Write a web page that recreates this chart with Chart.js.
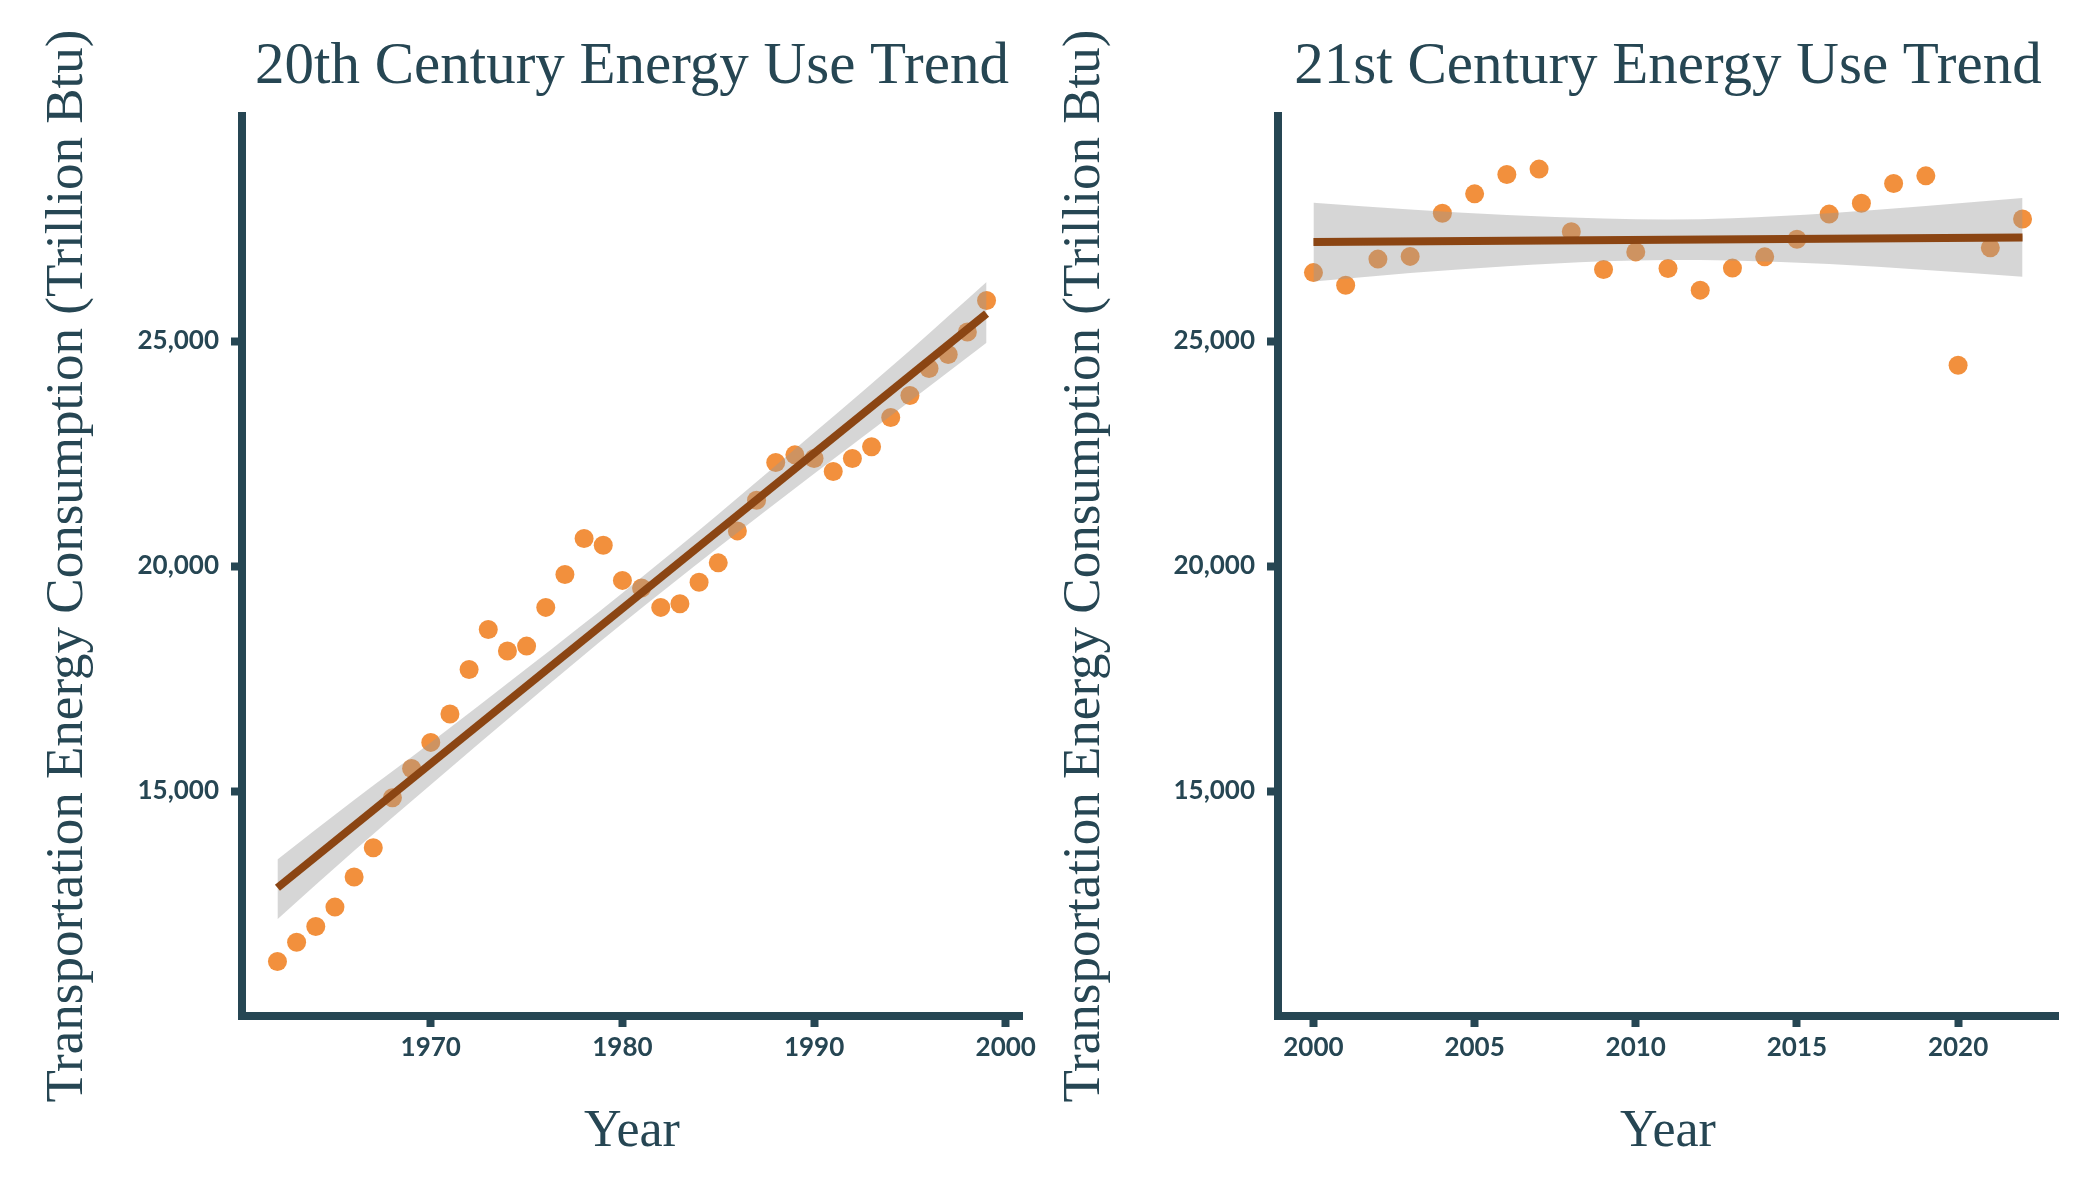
<!DOCTYPE html>
<html>
<head>
<meta charset="utf-8">
<script src="https://cdn.jsdelivr.net/npm/chart.js@4.4.1/dist/chart.umd.min.js"></script>
<style>
  html, body { margin: 0; padding: 0; background: #ffffff; }
  #wrap { position: relative; width: 2100px; height: 1200px; }
  canvas { position: absolute; top: 0; }
  #left { left: 0; width: 1050px; height: 1200px; }
  #right { left: 1036px; width: 1064px; height: 1200px; }
</style>
</head>
<body>
<div id="wrap">
  <canvas id="left" width="1050" height="1200"></canvas>
  <canvas id="right" width="1064" height="1200"></canvas>
</div>
<script>
// 20th century panel
var years20 = [1962, 1963, 1964, 1965, 1966, 1967, 1968, 1969, 1970, 1971,
               1972, 1973, 1974, 1975, 1976, 1977, 1978, 1979, 1980, 1981,
               1982, 1983, 1984, 1985, 1986, 1987, 1988, 1989, 1990, 1991,
               1992, 1993, 1994, 1995, 1996, 1997, 1998, 1999];
var energy20 = [11210, 11640, 11990, 12420, 13090, 13740, 14850, 15500, 16080, 16710,
                17700, 18590, 18110, 18220, 19080, 19810, 20610, 20460, 19680, 19510,
                19080, 19160, 19640, 20070, 20780, 21460, 22300, 22470, 22390, 22100,
                22390, 22650, 23300, 23790, 24390, 24700, 25200, 25900];
var fitYears20 = [1962, 1999];
var fitValues20 = [12850, 25610];
var bandYears20 = [1962, 1966, 1970, 1975, 1980, 1985, 1990, 1995, 1999];
var bandUpper20 = [13480, 14800, 16080, 17720, 19400, 21150, 22960, 24790, 26310];
var bandLower20 = [12150, 13670, 15140, 16950, 18720, 20410, 22050, 23660, 24960];
var xTicks20 = [1970, 1980, 1990, 2000];

// 21st century panel
var years21 = [2000, 2001, 2002, 2003, 2004, 2005, 2006, 2007, 2008, 2009, 2010,
               2011, 2012, 2013, 2014, 2015, 2016, 2017, 2018, 2019, 2020, 2021, 2022];
var energy21 = [26520, 26240, 26820, 26880, 27840, 28270, 28700, 28820, 27430, 26590, 26980,
                26610, 26130, 26620, 26870, 27260, 27820, 28060, 28500, 28670, 24460, 27070, 27710];
var fitYears21 = [2000, 2022];
var fitValues21 = [27200, 27300];
var bandYears21 = [2000, 2003, 2006, 2009, 2011, 2013, 2016, 2019, 2022];
var bandUpper21 = [28070, 27920, 27800, 27720, 27700, 27730, 27840, 28000, 28180];
var bandLower21 = [26320, 26510, 26660, 26770, 26800, 26790, 26710, 26580, 26430];
var xTicks21 = [2000, 2005, 2010, 2015, 2020];

var yTicks = [15000, 20000, 25000];

var ink = '#264653';
var pointColor = '#F2903D';
var fitColor = '#8B4513';
var bandColor = 'rgba(153,153,153,0.4)';

function pairs(xs, ys) {
    return xs.map(function (x, i) { return { x: x, y: ys[i] }; });
}

function makeChart(id, opts) {
    var ctx = document.getElementById(id).getContext('2d');
    return new Chart(ctx, {
        type: 'scatter',
        data: {
            datasets: [
                {
                    label: 'Energy',
                    data: pairs(opts.years, opts.values),
                    backgroundColor: pointColor,
                    borderWidth: 0,
                    pointRadius: 9.5,
                    order: 3
                },
                {
                    type: 'line',
                    label: 'upper',
                    data: pairs(opts.bandYears, opts.bandUpper),
                    showLine: true,
                    borderWidth: 0,
                    pointRadius: 0,
                    cubicInterpolationMode: 'monotone',
                    backgroundColor: bandColor,
                    fill: '+1',
                    order: 2
                },
                {
                    type: 'line',
                    label: 'lower',
                    data: pairs(opts.bandYears, opts.bandLower),
                    showLine: true,
                    borderWidth: 0,
                    pointRadius: 0,
                    cubicInterpolationMode: 'monotone',
                    fill: false,
                    order: 2
                },
                {
                    type: 'line',
                    label: 'fit',
                    data: pairs(opts.fitYears, opts.fitValues),
                    showLine: true,
                    borderColor: fitColor,
                    borderWidth: 8,
                    pointRadius: 0,
                    fill: false,
                    order: 1
                }
            ]
        },
        options: {
            responsive: false,
            animation: false,
            devicePixelRatio: 1,
            layout: { padding: { left: 0, top: 0, bottom: 0, right: opts.rightPad } },
            plugins: {
                legend: { display: false },
                tooltip: { enabled: false },
                title: {
                    display: true,
                    text: opts.title,
                    color: ink,
                    fullSize: false,
                    font: { family: 'Liberation Serif', size: 59, weight: 'normal' },
                    padding: { top: 31.6, bottom: 13.6 }
                }
            },
            scales: {
                x: {
                    type: 'linear',
                    min: opts.xMin,
                    max: opts.xMax,
                    border: { display: true, color: ink, width: 8 },
                    grid: { display: true, drawOnChartArea: false, drawTicks: true,
                            tickLength: 11, tickWidth: 8, tickColor: ink },
                    ticks: {
                        color: ink,
                        autoSkip: false,
                        maxRotation: 0,
                        padding: 5,
                        font: { family: 'Lato', size: 26, weight: 'bold' },
                        callback: function (v) { return String(v); }
                    },
                    title: {
                        display: true,
                        text: 'Year',
                        color: ink,
                        font: { family: 'Liberation Serif', size: 52, weight: 'normal' },
                        padding: { top: 36.8, bottom: 36.8 }
                    },
                    afterBuildTicks: function (scale) {
                        scale.ticks = opts.xTicks.map(function (v) { return { value: v }; });
                    },
                    afterFit: function (scale) { scale.height = 184; }
                },
                y: {
                    type: 'linear',
                    min: 10000,
                    max: 30000,
                    border: { display: true, color: ink, width: 8 },
                    grid: { display: true, drawOnChartArea: false, drawTicks: true,
                            tickLength: 11, tickWidth: 8, tickColor: ink },
                    ticks: {
                        color: ink,
                        autoSkip: false,
                        padding: 12,
                        font: { family: 'Lato', size: 26, weight: 'bold' },
                        callback: function (v) { return v.toLocaleString('en-US'); }
                    },
                    title: {
                        display: true,
                        text: 'Transportation Energy Consumption (Trillion Btu)',
                        color: ink,
                        font: { family: 'Liberation Serif', size: 53, weight: 'normal' },
                        padding: { top: opts.yTitlePad, bottom: 0 }
                    },
                    afterBuildTicks: function (scale) {
                        scale.ticks = yTicks.map(function (v) { return { value: v }; });
                    },
                    afterFit: function (scale) { scale.width = 242; }
                }
            }
        }
    });
}

makeChart('left', {
    title: '20th Century Energy Use Trend',
    years: years20, values: energy20,
    fitYears: fitYears20, fitValues: fitValues20,
    bandYears: bandYears20, bandUpper: bandUpper20, bandLower: bandLower20,
    xTicks: xTicks20, xMin: 1960.15, xMax: 2000.85,
    rightPad: 28, yTitlePad: 36.5
});

makeChart('right', {
    title: '21st Century Energy Use Trend',
    years: years21, values: energy21,
    fitYears: fitYears21, fitValues: fitValues21,
    bandYears: bandYears21, bandUpper: bandUpper21, bandLower: bandLower21,
    xTicks: xTicks21, xMin: 1998.9, xMax: 2023.1,
    rightPad: 42, yTitlePad: 17.5
});
</script>
</body>
</html>
